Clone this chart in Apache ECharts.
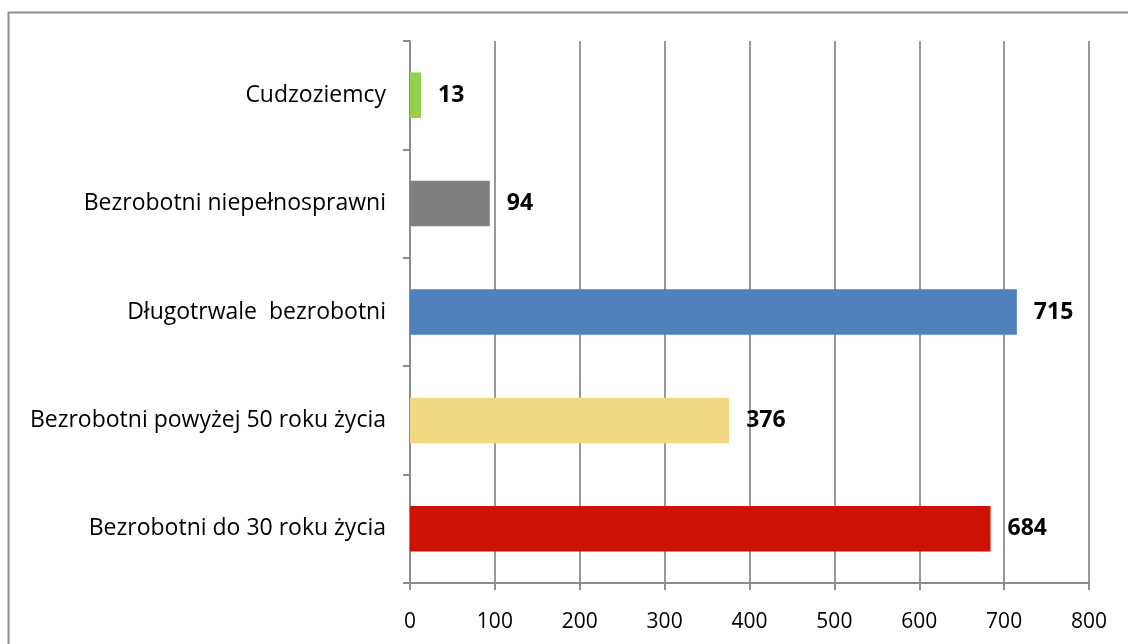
<!DOCTYPE html>
<html>
<head>
<meta charset="utf-8">
<script src="https://cdn.jsdelivr.net/npm/echarts@6/dist/echarts.min.js"></script>
<style>
  html, body { margin: 0; padding: 0; background: #fff; }
  #chart { width: 1128px; height: 644px; }
</style>
</head>
<body>
<div id="chart"></div>
<script>
// categories from bottom to top
var categories = [
  "Bezrobotni do 30 roku życia",
  "Bezrobotni powyżej 50 roku życia",
  "Długotrwale  bezrobotni",
  "Bezrobotni niepełnosprawni",
  "Cudzoziemcy"
];
var values = [684, 376, 715, 94, 13];
var barColors = ["#cc1105", "#f0d982", "#4f81bd", "#7f7f7f", "#92d050"];

var myChart = echarts.init(document.getElementById("chart"));
var option = {
  animation: false,
  textStyle: { fontFamily: "Open Sans" },
  graphic: [
    {
      type: "rect",
      shape: { x: 8.5, y: 12.5, width: 1300, height: 800 },
      style: { fill: "none", stroke: "#8c8c8c", lineWidth: 2 },
      silent: true
    }
  ],
  grid: { left: 410, right: 39, top: 41, bottom: 61 },
  xAxis: {
    type: "value",
    min: 0,
    max: 800,
    interval: 100,
    axisLine: { show: true, lineStyle: { color: "#8c8c8c", width: 2 } },
    axisTick: { show: true, length: 7, lineStyle: { color: "#8c8c8c", width: 2 } },
    axisLabel: { color: "#000", fontSize: 21, margin: 29 },
    splitLine: { show: true, lineStyle: { color: "#999", width: 2 } }
  },
  yAxis: {
    type: "category",
    data: categories,
    axisLine: { show: true, lineStyle: { color: "#8c8c8c", width: 2 } },
    axisTick: { show: true, length: 7, lineStyle: { color: "#8c8c8c", width: 2 } },
    axisLabel: { color: "#000", fontSize: 23, margin: 24, padding: [4, 0, 0, 0] },
    splitLine: { show: false }
  },
  series: [
    {
      type: "bar",
      barWidth: "42%",
      data: values.map(function (v, i) {
        return { value: v, itemStyle: { color: barColors[i] } };
      }),
      label: {
        show: true,
        position: "right",
        distance: 17,
        color: "#000",
        fontWeight: "bold",
        fontSize: 23,
        padding: [3, 0, 0, 0]
      }
    }
  ]
};
myChart.setOption(option);
</script>
</body>
</html>
